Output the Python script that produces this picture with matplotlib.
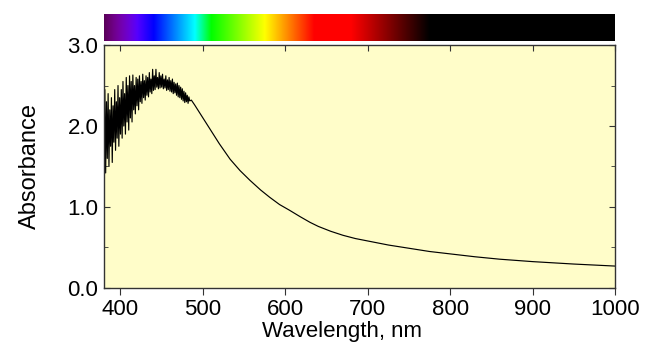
import numpy as np
import matplotlib
matplotlib.use("Agg")
import matplotlib.pyplot as plt
from matplotlib.ticker import MultipleLocator

plt.rcParams['font.family'] = ['Liberation Sans', 'DejaVu Sans']

# noisy region, 1 nm steps from 380 nm
noisy_start = 380
noisy_vals = [
    1.70, 2.45, 1.42, 2.30, 1.60, 2.40, 1.50, 2.20, 1.75, 2.35,
    1.55, 2.25, 1.80, 2.45, 1.70, 2.30, 1.85, 2.50, 1.75, 2.35,
    1.90, 2.45, 1.85, 2.55, 2.00, 2.40, 1.90, 2.60, 2.05, 2.50,
    1.95, 2.62, 2.10, 2.55, 2.05, 2.63, 2.20, 2.50, 2.15, 2.60,
    2.25, 2.58, 2.20, 2.62, 2.30, 2.55, 2.28, 2.64, 2.35, 2.56,
    2.32, 2.62, 2.38, 2.60, 2.36, 2.66, 2.42, 2.58, 2.40, 2.70,
    2.44, 2.62, 2.45, 2.70, 2.48, 2.60, 2.46, 2.66, 2.47, 2.62,
    2.48, 2.64, 2.46, 2.58, 2.47, 2.62, 2.44, 2.57, 2.45, 2.60,
    2.43, 2.56, 2.42, 2.58, 2.40, 2.54, 2.41, 2.52, 2.38, 2.53,
    2.36, 2.50, 2.35, 2.48, 2.33, 2.46, 2.31, 2.43, 2.29, 2.41,
    2.30, 2.38, 2.28, 2.36, 2.31,
]
smooth_wl = [486, 490, 500, 508, 520, 533, 545, 557, 570, 581, 593, 605, 618,
             630, 640, 655, 670, 685, 700, 725, 750, 775, 800, 830, 860, 900, 950, 1000]
smooth_abs = [2.32, 2.26, 2.10, 1.97, 1.78, 1.59, 1.45, 1.33, 1.21, 1.12, 1.03, 0.96, 0.88,
              0.81, 0.76, 0.70, 0.65, 0.61, 0.58, 0.53, 0.49, 0.45, 0.42, 0.385, 0.355,
              0.325, 0.295, 0.27]

wl = list(range(noisy_start, noisy_start + len(noisy_vals))) + smooth_wl
ab = noisy_vals + smooth_abs

xticks = [400, 500, 600, 700, 800, 900, 1000]
yticks = [0.0, 1.0, 2.0, 3.0]


def wl_to_rgb(w):
    if w < 380:
        return (0, 0, 0)
    if w < 440:
        r, g, b = -(w - 440) / 60.0, 0.0, 1.0
    elif w < 490:
        r, g, b = 0.0, (w - 440) / 50.0, 1.0
    elif w < 510:
        r, g, b = 0.0, 1.0, -(w - 510) / 20.0
    elif w < 575:
        r, g, b = (w - 510) / 65.0, 1.0, 0.0
    elif w < 635:
        r, g, b = 1.0, -(w - 635) / 60.0, 0.0
    elif w <= 775:
        r, g, b = 1.0, 0.0, 0.0
    else:
        return (0, 0, 0)
    if w < 420:
        f = 0.35 + 0.65 * (w - 380) / 40.0
    elif w > 680:
        f = max(0.0, (775 - w) / 95.0)
    else:
        f = 1.0
    return (r * f, g * f, b * f)


fig = plt.figure(figsize=(6.46, 3.44), dpi=100)
ax = fig.add_axes([0.161, 0.163, 0.791, 0.706])
cax = fig.add_axes([0.161, 0.881, 0.791, 0.079])

# spectrum bar
xs = np.linspace(380, 1000, 621)
img = np.array([[wl_to_rgb(w) for w in xs]])
cax.imshow(img, aspect='auto', extent=[380, 1000, 0, 1])
cax.set_axis_off()

ax.set_facecolor('#FFFDC9')
ax.plot(wl, ab, color='black', lw=0.85)
ax.set_xlim(380, 1000)
ax.set_ylim(0, 3.0)
ax.set_xticks(xticks)
ax.set_yticks(yticks)
ax.set_yticklabels([f"{v:.1f}" for v in yticks])
ax.yaxis.set_minor_locator(MultipleLocator(0.5))
ax.tick_params(axis='x', which='major', direction='out', length=5, labelsize=16, pad=3,
               color='#333333')
ax.tick_params(axis='y', which='both', direction='in', right=True, labelsize=16, length=4,
               pad=4, color='#333333')
ax.tick_params(axis='y', which='minor', length=3)

top = ax.secondary_xaxis('top')
top.set_xticks(xticks)
top.tick_params(direction='in', length=4, labeltop=False, color='#333333')
top.spines['top'].set_visible(False)

ax.set_xlabel('Wavelength, nm', fontsize=16, labelpad=0)
ax.set_ylabel('Absorbance', fontsize=17, labelpad=19)
ax.xaxis.set_label_coords(0.465, -0.135)
for s in ax.spines.values():
    s.set_linewidth(1.0)
    s.set_color('#333333')

fig.savefig('out.png', dpi=100)
